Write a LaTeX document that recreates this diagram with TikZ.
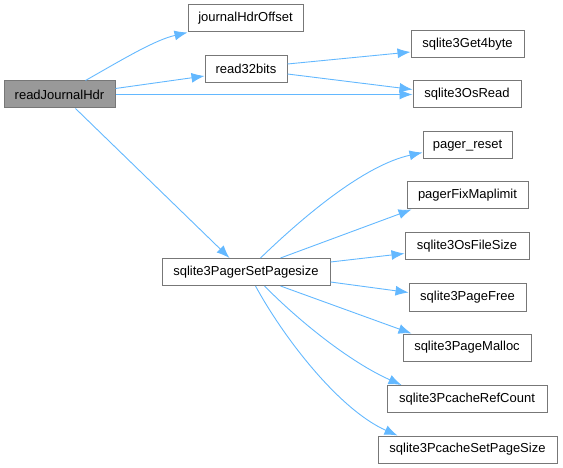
\documentclass[tikz,border=0pt]{standalone}
\usepackage{fontspec}
\setmainfont{Liberation Sans}
\usetikzlibrary{calc,arrows.meta}
\definecolor{edgeblue}{HTML}{63B8FF}
\definecolor{boxline}{HTML}{777777}
\definecolor{mainfill}{HTML}{999999}
\tikzset{
  fn/.style={draw=boxline, line width=1pt, fill=white, minimum height=27pt, inner sep=0pt, font=\fontsize{13}{15}\selectfont},
  mainfn/.style={fn, fill=mainfill},
  edge/.style={draw=edgeblue, line width=0.9pt, -{Latex[length=13pt,width=10pt]}}
}
\begin{document}
\begin{tikzpicture}[x=1pt,y=-1pt]
\useasboundingbox (0,0) rectangle (563,468);
\node[mainfn, minimum width=111pt] (rjh) at (59.5,94.5) {readJournalHdr};
\node[fn, minimum width=115pt] (jho) at (245.5,18.5) {journalHdrOffset};
\node[fn, minimum width=82pt] (r32) at (246,69) {read32bits};
\node[fn, minimum width=113pt] (g4) at (467.5,44) {sqlite3Get4byte};
\node[fn, minimum width=108pt] (osr) at (467,94.5) {sqlite3OsRead};
\node[fn, minimum width=89pt] (pr) at (467.5,145.5) {pager\_reset};
\node[fn, minimum width=121pt] (pfm) at (467.5,195.5) {pagerFixMaplimit};
\node[fn, minimum width=124pt] (ofs) at (467,246.5) {sqlite3OsFileSize};
\node[fn, minimum width=168pt] (pps) at (246,272) {sqlite3PagerSetPagesize};
\node[fn, minimum width=117pt] (pf) at (467.5,297.5) {sqlite3PageFree};
\node[fn, minimum width=128pt] (pm) at (467,347.5) {sqlite3PageMalloc};
\node[fn, minimum width=160pt] (prc) at (467,399) {sqlite3PcacheRefCount};
\node[fn, minimum width=179pt] (psps) at (467.5,449.5) {sqlite3PcacheSetPageSize};

\draw[edge] ($(rjh.north west)+(82,0)$) .. controls (125,58) and (155,40) .. (jho.south west);
\draw[edge] ($(rjh.east)+(0,-6)$) -- ($(r32.west)+(0,7)$);
\draw[edge] (rjh.east) -- (osr.west);
\draw[edge] ($(rjh.south west)+(72,0)$) -- ($(pps.north west)+(68,0)$);
\draw[edge] ($(r32.east)+(0,-5)$) -- ($(g4.west)+(0,8)$);
\draw[edge] ($(r32.east)+(0,5)$) -- ($(osr.west)+(0,-5)$);
\draw[edge] ($(pps.north west)+(99,0)$) .. controls (305,215) and (365,165) .. ($(pr.west)+(0,7)$);
\draw[edge] ($(pps.north west)+(119,0)$) -- ($(pfm.south west)+(5,0)$);
\draw[edge] ($(pps.east)+(0,-10)$) -- ($(ofs.west)+(0,7)$);
\draw[edge] ($(pps.east)+(0,10)$) -- ($(pf.west)+(0,-5)$);
\draw[edge] ($(pps.south west)+(119,0)$) -- ($(pm.north west)+(9,0)$);
\draw[edge] ($(pps.south west)+(103,0)$) .. controls (300,322) and (350,362) .. ($(prc.north west)+(15,0)$);
\draw[edge] ($(pps.south west)+(94,0)$) .. controls (285,340) and (340,410) .. ($(psps.north west)+(20,0)$);
\end{tikzpicture}
\end{document}
